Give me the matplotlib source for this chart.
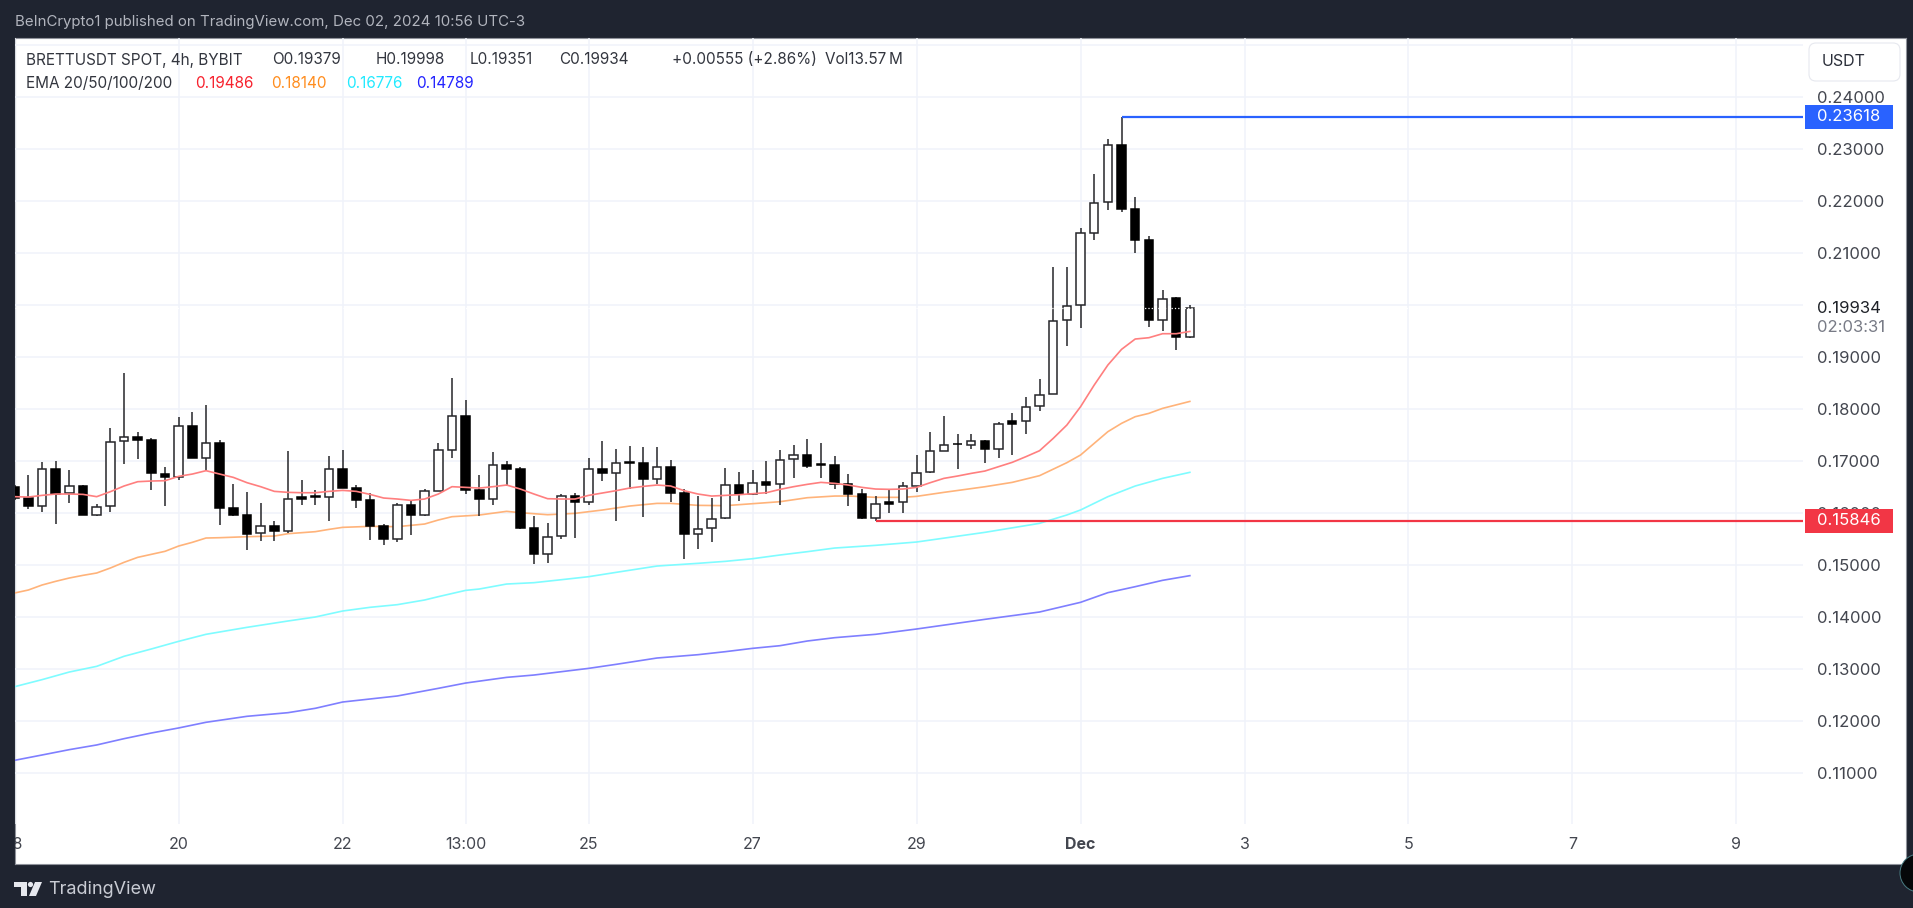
import numpy as np
import matplotlib
matplotlib.use('Agg')
import matplotlib.pyplot as plt
from matplotlib.patches import Rectangle, Circle, Polygon, FancyBboxPatch
from matplotlib.transforms import IdentityTransform, blended_transform_factory

plt.rcParams['font.family'] = ['Inter', 'DejaVu Sans']

W, H = 1913, 908

# candles, first one sits at the "18" gridline
opens = [.16500, .16276, .16135, .16846, .16372, .16519, .15961, .16128, .17378, .17461, .17397, .16743,
         .16692, .17660, .17058, .17333, .16096, .15961, .15602, .15737, .15647, .16295, .16327, .16308,
         .16833, .16468, .16250, .15744, .15500, .16154, .15949, .16417, .17211, .17852, .16429, .16269,
         .16917, .16833, .15699, .15199, .15545, .16320, .16205, .16840, .16756, .16974, .16955, .16647,
         .16884, .16372, .15596, .15699, .15904, .16532, .16365, .16583, .16545, .17032, .17115, .16936,
         .16910, .16545, .16359, .15891, .16199, .16205, .16519, .16776, .17192, .17321, .17308, .17372,
         .17224, .17756, .17763, .18051, .18282, .19705, .19987, .21372, .21981, .23070, .21846, .21237,
         .19699, .20122, .19379]
highs = [.16532, .16718, .16974, .16987, .16820, .16525, .16167, .17628, .18679, .17545, .17429, .16878,
         .17846, .17942, .18064, .17397, .16551, .16404, .16186, .15840, .17179, .16622, .16436, .17096,
         .17205, .16532, .16385, .15788, .16179, .16224, .16455, .17340, .18583, .18160, .16731, .17160,
         .17000, .16872, .15936, .15801, .16359, .16372, .17045, .17384, .17231, .17288, .17269, .17256,
         .17013, .16449, .16327, .16276, .16852, .16782, .16820, .16987, .17205, .17301, .17423, .17340,
         .17096, .16744, .16455, .16314, .16449, .16596, .17109, .17558, .17859, .17513, .17519, .17397,
         .17750, .17917, .18231, .18564, .20731, .20731, .21468, .22506, .23179, .23618, .22077, .21320,
         .20282, .20154, .19998]
lows = [.16243, .16064, .16006, .15782, .16192, .15961, .15936, .16006, .16942, .17026, .16436, .16128,
        .16628, .17051, .16808, .15769, .15929, .15282, .15455, .15455, .15602, .16141, .16141, .15846,
        .16468, .16096, .15481, .15385, .15429, .15577, .15936, .16417, .17045, .16365, .15936, .16147,
        .16519, .15686, .15006, .15038, .15500, .15506, .16154, .16615, .15840, .16449, .15923, .16551,
        .16205, .15115, .15295, .15429, .15872, .16231, .16346, .16365, .16154, .16673, .16865, .16660,
        .16455, .16135, .15878, .15846, .16000, .16000, .16391, .16769, .17186, .16846, .17231, .16962,
        .17051, .17115, .17513, .17962, .18276, .19212, .19558, .21250, .21820, .21788, .21000, .19570,
        .19500, .19135, .19351]
closes = [.16282, .16128, .16840, .16365, .16513, .15961, .16109, .17359, .17449, .17397, .16756, .16692,
          .17660, .17051, .17333, .16096, .15955, .15596, .15737, .15654, .16256, .16269, .16308, .16833,
          .16468, .16250, .15744, .15500, .16147, .15949, .16410, .17199, .17852, .16429, .16263, .16910,
          .16833, .15699, .15199, .15532, .16327, .16205, .16840, .16756, .16949, .16949, .16641, .16884,
          .16372, .15596, .15679, .15885, .16532, .16365, .16577, .16538, .17019, .17115, .16904, .16917,
          .16551, .16359, .15891, .16160, .16173, .16513, .16756, .17180, .17301, .17314, .17372, .17218,
          .17705, .17712, .18038, .18269, .19692, .19974, .21372, .21961, .23070, .21846, .21237, .19699,
          .20109, .19379, .19934]

ema20 = [.16308, .16301, .16333, .16359, .16359, .16352, .16308, .16404, .16513, .16596, .16609, .16615,
         .16699, .16743, .16808, .16743, .16679, .16577, .16500, .16410, .16391, .16384, .16384, .16410,
         .16429, .16410, .16352, .16282, .16263, .16237, .16263, .16359, .16500, .16487, .16474, .16500,
         .16532, .16455, .16359, .16269, .16263, .16263, .16333, .16378, .16423, .16474, .16506, .16532,
         .16513, .16423, .16359, .16320, .16333, .16346, .16365, .16384, .16448, .16500, .16545, .16583,
         .16564, .16532, .16487, .16455, .16449, .16455, .16487, .16577, .16660, .16705, .16756, .16801,
         .16885, .16968, .17077, .17192, .17429, .17686, .18038, .18455, .18840, .19141, .19340, .19365,
         .19442, .19442, .19486]

ema50_idx = [-12, -11, -10, -9, -8, -7, -6, -5, -4, -3, -2, -1, 0, 1, 2, 3, 5, 7, 8, 10, 11, 12, 14, 16, 18,
             19, 20, 22, 24, 25, 27, 29, 31, 33, 35, 36, 38, 40, 42, 44, 46, 48, 49, 51, 53, 54, 56, 59, 61,
             63, 65, 66, 68, 69, 70, 71, 72, 74]
ema50 = [.14456, .14513, .14609, .14680, .14744, .14795, .14840, .14936, .15045, .15141, .15199, .15257,
         .15359, .15430, .15513, .15519, .15538, .15551, .15596, .15635, .15679, .15718, .15737, .15731,
         .15782, .15859, .15923, .15955, .16026, .16000, .15961, .15987, .16051, .16128, .16179, .16179,
         .16141, .16135, .16173, .16211, .16288, .16320, .16321, .16295, .16295, .16314, .16391, .16499,
         .16583, .16712, .16962, .17109, .17558, .17718, .17846, .17910, .18006, .18140]

ema100_idx = [-12, -10, -8, -6, -4, -2, 0, 2, 5, 8, 10, 12, 14, 16, 18, 19, 21, 22, 24, 26, 28, 30, 32, 35,
              38, 40, 42, 44, 46, 48, 51, 54, 59, 63, 65, 66, 67, 68, 70, 72, 74]
ema100 = [.12654, .12789, .12936, .13045, .13238, .13379, .13526, .13661, .13795, .13917, .13994, .14109,
          .14180, .14231, .14321, .14385, .14506, .14532, .14628, .14654, .14711, .14769, .14852, .14974,
          .15026, .15064, .15115, .15186, .15250, .15320, .15372, .15436, .15622, .15795, .15956, .16052,
          .16180, .16308, .16513, .16660, .16776]

ema200_idx = [-12, -10, -8, -6, -4, -2, 0, 2, 5, 8, 10, 12, 14, 16, 19, 21, 24, 26, 28, 30, 32, 35, 38, 40,
              42, 44, 46, 48, 51, 54, 59, 63, 66, 68, 70, 72, 74]
ema200 = [.11238, .11340, .11443, .11533, .11654, .11763, .11860, .11969, .12084, .12154, .12238, .12359,
          .12417, .12475, .12622, .12724, .12833, .12878, .12942, .13006, .13083, .13205, .13269, .13327,
          .13391, .13442, .13532, .13596, .13661, .13763, .13949, .14090, .14276, .14462, .14577, .14699,
          .14789]

price_ticks = [.11, .12, .13, .14, .15, .16, .17, .18, .19, .20, .21, .22, .23, .24, .25]
hidden_price_ticks = [.20, .25]
time_tick_idx = [-12, 0, 12, 21, 30, 42, 54, 66, 78, 90, 102, 114]
time_tick_labels = ['18', '20', '22', '13:00', '25', '27', '29', 'Dec', '3', '5', '7', '9']

res_start, res_level = 69, .23618
sup_start, sup_level = 51, .15846
last_price = .19934
countdown = '02:03:31'

BG = '#1f2430'
GRID = '#f0f3fa'
TXT = '#3c3f49'


def px(x, y):
    return x / W, 1 - y / H


def ftext(x, y, s, **kw):
    kw.setdefault('color', TXT)
    kw.setdefault('fontsize', 11)
    kw.setdefault('va', 'center')
    xf, yf = px(x, y)
    return fig.text(xf, yf, s, **kw)


fig = plt.figure(figsize=(W / 100, H / 100), dpi=100, facecolor=BG)

# white chart card
panel = fig.add_axes([14.7 / W, (H - 864) / H, (1905.7 - 14.7) / W, (864 - 38) / H])
panel.set_xticks([])
panel.set_yticks([])
panel.set_facecolor('white')
for s in panel.spines.values():
    s.set_color('#8f929b')
    s.set_linewidth(0.8)

ax = fig.add_axes([14.7 / W, (H - 824) / H, (1803 - 14.7) / W, (824 - 38) / H])
ax.patch.set_alpha(0)
for s in ax.spines.values():
    s.set_visible(False)
ax.set_xlim(-11.76, 118.87)
ax.set_ylim(.10013, .25129)
ax.set_axisbelow(True)
ax.grid(True, color=GRID, lw=1.1)

ax.yaxis.tick_right()
ax.set_yticks(price_ticks)
ax.set_yticklabels(['' if p in hidden_price_ticks else f'{p:.5f}' for p in price_ticks])
ax.set_xticks(time_tick_idx)
ax.set_xticklabels(time_tick_labels)
ax.tick_params(axis='y', length=0, pad=10, labelsize=12, labelcolor='#43464f')
ax.tick_params(axis='x', length=0, pad=9.5, labelsize=11.5, labelcolor='#43464f')
for lab in ax.get_xticklabels():
    if lab.get_text() == 'Dec':
        lab.set_fontweight('bold')
    lab.set_clip_on(True)
    lab.set_clip_box(panel.bbox)

# candles
idx = np.arange(len(opens)) - 12
o, h, l, c = map(np.array, (opens, highs, lows, closes))
up = c >= o
ax.vlines(idx, l, h, color='#26262a', lw=1.1, zorder=3)
body_lo = np.minimum(o, c)
body_h = np.abs(c - o)
ax.bar(idx[up], body_h[up], bottom=body_lo[up], width=0.62, color='white', edgecolor='#26262a', lw=1.1, zorder=4)
ax.bar(idx[~up], body_h[~up], bottom=body_lo[~up], width=0.62, color='black', edgecolor='black', lw=1.1, zorder=4)

# EMAs
ax.plot(idx, ema20, color='#ff7f7f', lw=1.2, zorder=5)
ax.plot(ema50_idx, ema50, color='#ffb37a', lw=1.2, zorder=2.8)
ax.plot(ema100_idx, ema100, color='#7ffcff', lw=1.2, zorder=2.8)
ax.plot(ema200_idx, ema200, color='#7f7fff', lw=1.2, zorder=2.8)

# last price dots
ax.axhline(last_price, color='white', ls=':', lw=0.9, zorder=6)

# horizontal levels with their price tags
ax.plot([res_start, 118.87], [res_level, res_level], color='#2962ff', lw=1.6, zorder=6, solid_capstyle='butt')
ax.plot([sup_start, 118.87], [sup_level, sup_level], color='#f23645', lw=1.6, zorder=6, solid_capstyle='butt')

tr = blended_transform_factory(IdentityTransform(), ax.transData)
box_h = 24 / 5200
for level, col in [(res_level, '#2962ff'), (sup_level, '#f23645')]:
    ax.add_patch(Rectangle((1805, level - box_h / 2), 88, box_h, transform=tr, facecolor=col, edgecolor='none',
                           clip_on=False, zorder=10))
    ax.text(1817, level, f'{level:.5f}', transform=tr, color='white', fontsize=12, va='center', ha='left',
            clip_on=False, zorder=11)
ax.text(1817, last_price, f'{last_price:.5f}', transform=tr, color='#1f2228', fontsize=12, va='center', ha='left',
        clip_on=False, zorder=11)
ftext(1817, 328, countdown, color='#787b86', fontsize=12)

# USDT button
fig.patches.append(FancyBboxPatch((1812, H - 78), 85, 32, boxstyle='round,pad=3,rounding_size=7',
                                  transform=IdentityTransform(), facecolor='white', edgecolor='#e6e8ef', lw=0.8,
                                  figure=fig))
ftext(1822, 62, 'USDT', color='#2a2e39', fontsize=11.5)

# headers
ftext(15, 22, 'BeInCrypto1 published on TradingView.com, Dec 02, 2024 10:56 UTC-3', color='#b2b5be', fontsize=10.8)
for x, s in [(25.6, 'BRETTUSDT SPOT, 4h, BYBIT'), (272, 'O0.19379'), (376, 'H0.19998'), (470, 'L0.19351'),
             (559, 'C0.19934'), (672, '+0.00555 (+2.86%)'), (825, 'Vol13.57\u2009M')]:
    ftext(x, 60, s, color='#33363f', family=['Inter', 'DejaVu Sans'])
for x, s, col in [(25.6, 'EMA 20/50/100/200', '#33363f'), (195, '0.19486', '#f7222e'), (271, '0.18140', '#ff8d1e'),
                  (346, '0.16776', '#22eaff'), (416, '0.14789', '#2323ff')]:
    ftext(x, 84, s, color=col)

# logo and footer
dark = IdentityTransform()
fig.patches.append(Polygon([(14, H - 882), (27, H - 882), (27, H - 896), (21, H - 896), (21, H - 887), (14, H - 887)],
                           transform=dark, facecolor='#e6e8ee', edgecolor='none', figure=fig))
fig.patches.append(Circle((30.5, H - 884.5), 2.6, transform=dark, facecolor='#e6e8ee', edgecolor='none', figure=fig))
fig.patches.append(Polygon([(35, H - 882), (42, H - 882), (36, H - 896), (29, H - 896)],
                           transform=dark, facecolor='#e6e8ee', edgecolor='none', figure=fig))
ftext(48, 890, 'TradingView', color='#c9ccd4', fontsize=13)
fig.patches.append(Circle((1919, H - 873), 19, transform=dark, facecolor='#050709', edgecolor='#4a7d84', lw=0.7,
                          figure=fig))

fig.savefig('out.png', dpi=100, facecolor=fig.get_facecolor())
